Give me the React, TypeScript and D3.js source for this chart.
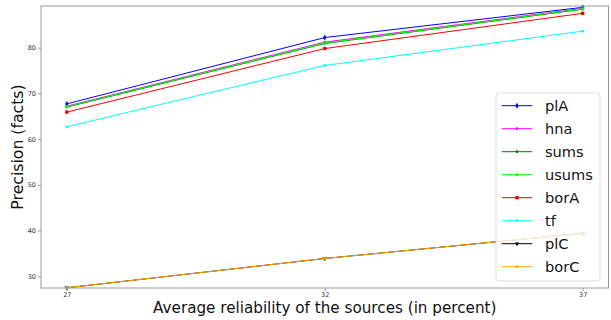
import React, { useEffect, useRef } from "react";
import * as d3 from "d3";

// chart values
const xValues = [27, 32, 37];
const yTicks = [30, 40, 50, 60, 70, 80];
const seriesNames = ["plA", "hna", "sums", "usums", "borA", "tf", "plC", "borC"];
const plA = [67.7, 82.2, 88.8];
const hna = [67.2, 81.2, 88.6];
const sums = [67.0, 80.9, 88.4];
const usums = [67.1, 81.0, 88.5];
const borA = [65.9, 79.8, 87.5];
const tf = [62.7, 76.1, 83.6];
const plC = [27.5, 33.9, 39.4];
const borC = [27.5, 33.9, 39.4];
const seriesValues = [plA, hna, sums, usums, borA, tf, plC, borC];
const seriesColors = ["blue", "magenta", "green", "lime", "red", "cyan", "black", "orange"];
const seriesMarkers = ["diamond", "circle", "circle", "circle", "square", "circle", "triangle", "circle"];

const W = 611;
const H = 320;
const FONT = "DejaVu Sans, sans-serif";

function markerPath(kind: string) {
  if (kind === "diamond") return d3.symbol().type(d3.symbolDiamond).size(10)();
  if (kind === "square") return d3.symbol().type(d3.symbolSquare).size(11)();
  if (kind === "triangle") return d3.symbol().type(d3.symbolTriangle).size(9)();
  return d3.symbol().type(d3.symbolCircle).size(6)();
}

function LineChart() {
  const svgRef = useRef<SVGSVGElement>(null);

  useEffect(() => {
    const svg = d3.select(svgRef.current);
    svg.selectAll("*").remove();

    const left = 41, right = 608.5, top = 6, bottom = 288;
    const xScale = d3.scaleLinear().domain([26.5, 37.5]).range([left, right]);
    const yScale = d3.scaleLinear().domain([27.45, 89.1]).range([bottom, top]);

    svg.append("rect").attr("width", W).attr("height", H).attr("fill", "white");

    const line = d3
      .line<number>()
      .x((_, i) => xScale(xValues[i]))
      .y((d) => yScale(d));

    seriesValues.forEach((vals, s) => {
      const g = svg.append("g");
      g.append("path")
        .attr("d", line(vals))
        .attr("fill", "none")
        .attr("stroke", seriesColors[s])
        .attr("stroke-width", 1);
      g.selectAll("path.m")
        .data(vals)
        .join("path")
        .attr("class", "m")
        .attr("d", markerPath(seriesMarkers[s]))
        .attr("transform", (d, i) =>
          `translate(${xScale(xValues[i])},${yScale(d)})` + (seriesMarkers[s] === "triangle" ? " rotate(180)" : "")
        )
        .attr("fill", seriesColors[s]);
    });

    // frame
    svg.append("rect")
      .attr("x", left).attr("y", top)
      .attr("width", right - left).attr("height", bottom - top)
      .attr("fill", "none").attr("stroke", "#999").attr("stroke-width", 1);

    const xAxis = d3.axisBottom(xScale).tickValues(xValues).tickSize(3).tickSizeOuter(0).tickPadding(1.5);
    const gx = svg.append("g").attr("transform", `translate(0,${bottom})`).call(xAxis);
    const yAxis = d3.axisLeft(yScale).tickValues(yTicks).tickSize(3).tickSizeOuter(0).tickPadding(2);
    const gy = svg.append("g").attr("transform", `translate(${left},0)`).call(yAxis);
    [gx, gy].forEach((g) => {
      g.select(".domain").remove();
      g.selectAll("line").attr("stroke", "#999");
      g.selectAll("text").attr("fill", "#333").style("font-family", FONT).style("font-size", "6.5px");
    });

    svg.append("text")
      .attr("x", (left + right) / 2).attr("y", 313)
      .attr("text-anchor", "middle")
      .style("font-family", FONT).style("font-size", "15.2px")
      .attr("fill", "#111")
      .text("Average reliability of the sources (in percent)");

    svg.append("text")
      .attr("transform", `translate(23,${(top + bottom) / 2}) rotate(-90)`)
      .attr("text-anchor", "middle")
      .style("font-family", FONT).style("font-size", "15.7px")
      .attr("fill", "#111")
      .text("Precision (facts)");

    // legend
    const lg = svg.append("g");
    lg.append("rect")
      .attr("x", 496).attr("y", 93).attr("width", 104).attr("height", 188).attr("rx", 3)
      .attr("fill", "white").attr("fill-opacity", 0.8)
      .attr("stroke", "#ddd").attr("stroke-width", 1);
    seriesNames.forEach((name, s) => {
      const y = 105.7 + s * 23;
      lg.append("line")
        .attr("x1", 501.7).attr("x2", 532.3).attr("y1", y).attr("y2", y)
        .attr("stroke", seriesColors[s]).attr("stroke-width", 1);
      lg.append("path")
        .attr("d", markerPath(seriesMarkers[s]))
        .attr("transform", `translate(517,${y})` + (seriesMarkers[s] === "triangle" ? " rotate(180)" : ""))
        .attr("fill", seriesColors[s]);
      lg.append("text")
        .attr("x", 545).attr("y", y).attr("dy", "0.35em")
        .style("font-family", FONT).style("font-size", "14.6px")
        .attr("fill", "#111")
        .text(name);
    });
  }, []);

  return <svg ref={svgRef} width={W} height={H} style={{ display: "block" }} />;
}

export default function App() {
  return (
    <div style={{ position: "absolute", left: 0, top: 0 }}>
      <LineChart />
    </div>
  );
}
